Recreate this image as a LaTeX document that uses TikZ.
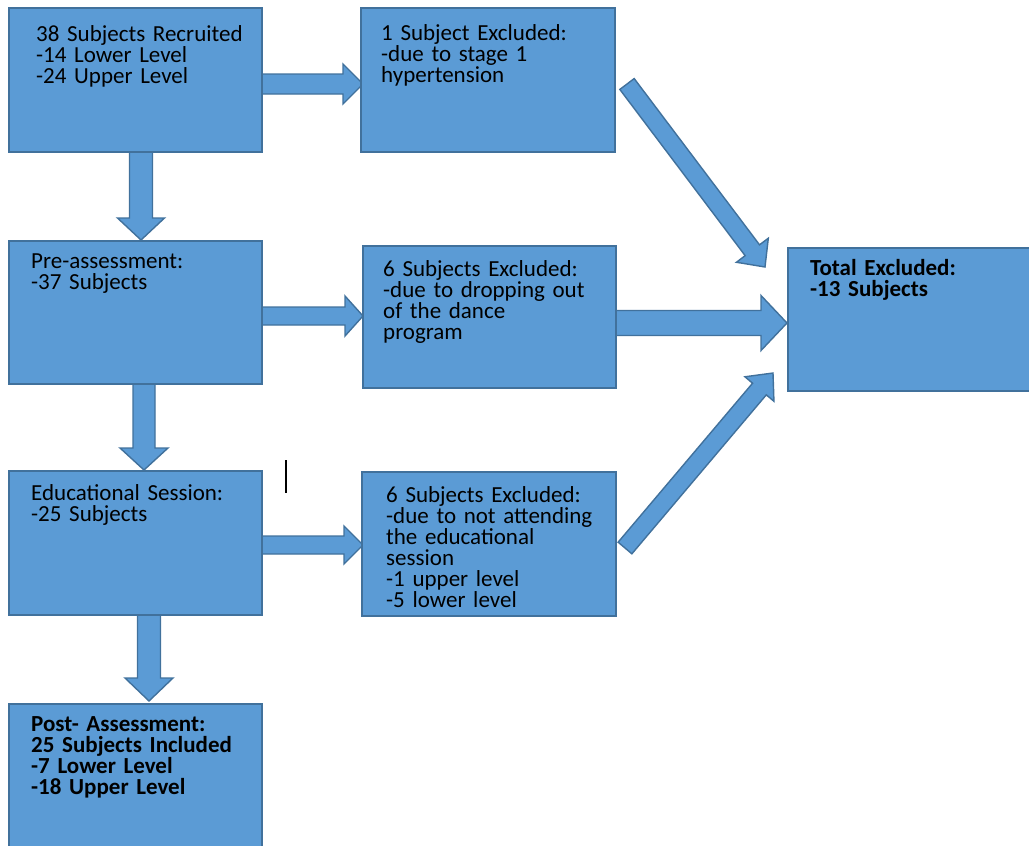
\documentclass[tikz,border=0pt]{standalone}
\usepackage{fontspec}
\setmainfont{Carlito}
\usetikzlibrary{calc,backgrounds}
\definecolor{boxfill}{HTML}{5B9BD5}
\definecolor{boxline}{HTML}{41719C}
\setlength{\normallineskiplimit}{-50pt}
\tikzset{
  box/.style={draw=boxline, fill=boxfill, line width=1.6pt, rectangle, anchor=north west, inner sep=0pt, outer sep=0pt},
  txt/.style={anchor=base west, inner sep=0pt, align=left, text width=300pt, text=black,
    font=\fontsize{23}{21}\selectfont},
  boldtxt/.style={txt, font=\fontsize{23}{21}\selectfont\bfseries},
  arr/.style={draw=boxline, fill=boxfill, line width=1.4pt, line join=miter},
}
% #1 start, #2 end, #3 shaft half width, #4 head half width, #5 head length
\newcommand\blockarrow[5]{%
  \coordinate (bas) at (#1);
  \coordinate (bae) at (#2);
  \coordinate (bah) at ($(bae)!#5!(bas)$);
  \draw[arr] ($(bas)!#3!90:(bae)$) -- ($(bah)!#3!-90:(bas)$) -- ($(bah)!#4!-90:(bas)$)
    -- (bae) -- ($(bah)!#4!90:(bas)$) -- ($(bah)!#3!90:(bas)$) -- ($(bas)!#3!-90:(bae)$) -- cycle;}
\begin{document}
\begin{tikzpicture}[x=1pt,y=-1pt]
\useasboundingbox (0,0) rectangle (1029,846);
% boxes
\node[box, minimum width=253pt, minimum height=144pt] (b1) at (9,8) {};
\node[box, minimum width=254pt, minimum height=144pt] (e1) at (361,8) {};
\node[box, minimum width=253pt, minimum height=143pt] (b2) at (9,241) {};
\node[box, minimum width=253pt, minimum height=142pt] (e2) at (363,246) {};
\node[box, minimum width=260pt, minimum height=143pt] (tot) at (788,248) {};
\node[box, minimum width=253pt, minimum height=144pt] (b3) at (9,471) {};
\node[box, minimum width=254pt, minimum height=144pt] (e3) at (362,472) {};
\node[box, minimum width=253pt, minimum height=170pt] (b4) at (9,704) {};
% texts
\node[txt] (t1) at (36,41) {38 Subjects Recruited\\{-}14 Lower Level\\{-}24 Upper Level};
\node[txt] (te1) at (381,40) {1 Subject Excluded:\\{-}due to stage 1\\hypertension};
\node[txt] (t2) at (31,268) {Pre-assessment:\\{-}37 Subjects};
\node[txt] (te2) at (383,276) {6 Subjects Excluded:\\{-}due to dropping out\\of the dance\\program};
\node[boldtxt] (ttot) at (810,275) {Total Excluded:\\{-}13 Subjects};
\node[txt] (t3) at (31,500) {Educational Session:\\{-}25 Subjects};
\node[txt] (te3) at (386,502) {6 Subjects Excluded:\\{-}due to not attending\\the educational\\session\\{-}1 upper level\\{-}5 lower level};
\node[boldtxt] (t4) at (31,731) {Post- Assessment:\\25 Subjects Included\\{-}7 Lower Level\\{-}18 Upper Level};
% arrows
\begin{scope}[on background layer]
\blockarrow{$(b1.east)+(0,4)$}{$(e1.west)+(2,4)$}{10pt}{20pt}{20pt}
\blockarrow{$(b1.south)+(5.5,0)$}{$(b2.north)+(5.5,-1)$}{11.5pt}{23.5pt}{22pt}
\blockarrow{$(b2.east)+(0,3.5)$}{$(e2.west)+(0,-1)$}{9pt}{20pt}{18pt}
\blockarrow{$(b2.south)+(8.5,0)$}{$(b3.north)+(8.5,-1)$}{11pt}{24pt}{22pt}
\blockarrow{$(b3.east)+(0,2)$}{$(e3.west)+(1,1)$}{9pt}{19pt}{19pt}
\blockarrow{$(b3.south)+(13.5,0)$}{$(b4.north)+(13.5,-3)$}{11.5pt}{24pt}{23pt}
\blockarrow{$(e1.east)+(12,4)$}{$(tot.north west)+(-23,19)$}{9pt}{20pt}{21pt}
\blockarrow{$(e2.east)+(0,6)$}{$(tot.west)+(-1,3.5)$}{12.5pt}{27.5pt}{26pt}
\blockarrow{$(e3.east)+(9,4)$}{$(tot.south west)+(-15,-18)$}{9pt}{19pt}{21pt}
\end{scope}
% text cursor mark
\draw[line width=1.2pt] (286,460) coordinate (curtop) -- (286,493) coordinate (curbot);
\end{tikzpicture}
\end{document}
